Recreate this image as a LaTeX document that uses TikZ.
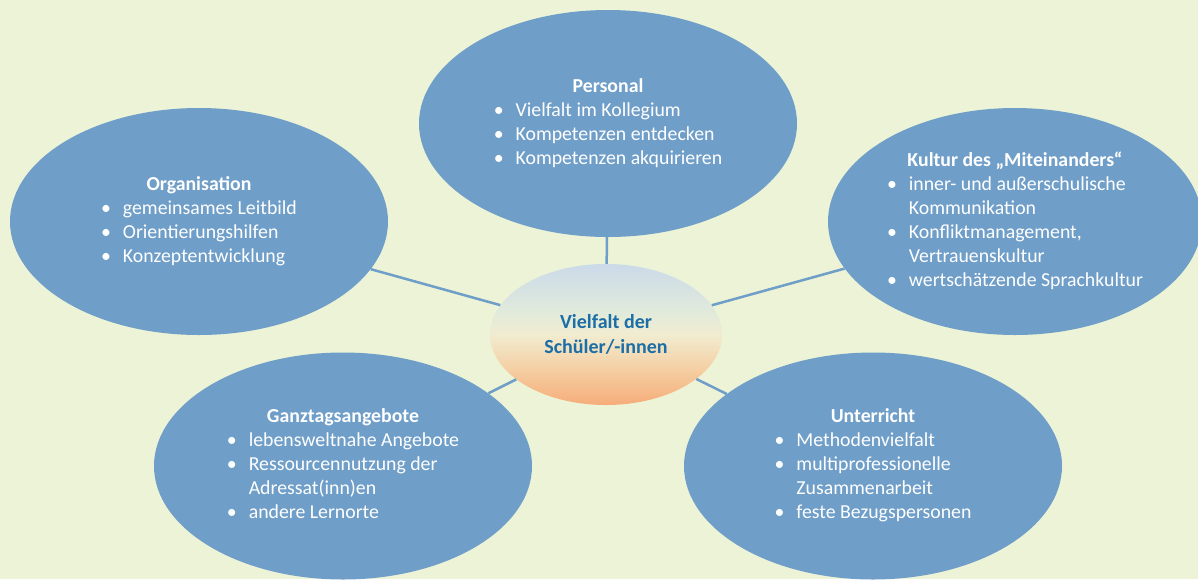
\documentclass[tikz,border=0pt]{standalone}
\usepackage{fontspec}
\setmainfont{Carlito}
\usetikzlibrary{shapes.geometric}
\definecolor{bggreen}{RGB}{236,243,214}
\definecolor{ovalblue}{RGB}{111,158,200}
\definecolor{coretext}{RGB}{28,110,166}
\definecolor{coretop}{RGB}{203,218,233}
\definecolor{coremid}{RGB}{226,235,218}
\definecolor{corecream}{RGB}{241,236,208}
\definecolor{corepeach}{RGB}{245,205,160}
\definecolor{corebot}{RGB}{246,172,122}
\pgfdeclareverticalshading{coreshade}{100bp}{color(0bp)=(corebot); color(25bp)=(corebot);
	color(37bp)=(corepeach); color(50bp)=(corecream); color(57bp)=(coremid);
	color(75bp)=(coretop); color(100bp)=(coretop)}
\tikzset{
	topic/.style={ellipse, fill=ovalblue, text=white, minimum width=378pt, minimum height=227pt,
		inner sep=0pt, font=\fontsize{19.8}{24}\selectfont},
	core/.style={ellipse, shading=coreshade, minimum width=232pt, minimum height=141pt,
		inner sep=0pt, align=center, text=coretext, font=\fontsize{20}{25}\selectfont\bfseries},
	link/.style={draw=ovalblue, line width=2.5pt}
}
\newcommand{\pt}{\textbullet}
\begin{document}
\begin{tikzpicture}[x=1pt,y=-1pt]
	\fill[bggreen] (0,0) rectangle (1198,579);
	\useasboundingbox (0,0) rectangle (1198,579);
	% centre and the five fields
	\node[core] (core) at (606,334.5) {Vielfalt der\\Schüler/-innen};
	\node[topic] (pers) at (608,123.5) {\begin{tabular}{@{}l@{\hspace{12pt}}l@{}}
		\multicolumn{2}{c}{\textbf{Personal}}\\
		\pt & Vielfalt im Kollegium\\
		\pt & Kompetenzen entdecken\\
		\pt & Kompetenzen akquirieren
	\end{tabular}};
	\node[topic] (orga) at (199,221.5) {\begin{tabular}{@{}l@{\hspace{12pt}}l@{}}
		\multicolumn{2}{c}{\textbf{Organisation}}\\
		\pt & gemeinsames Leitbild\\
		\pt & Orientierungshilfen\\
		\pt & Konzeptentwicklung
	\end{tabular}};
	\node[topic, minimum width=374pt] (kult) at (1015,221.5) {\begin{tabular}{@{}l@{\hspace{12pt}}l@{}}
		\multicolumn{2}{c}{\textbf{Kultur des „Miteinanders“}}\\
		\pt & inner- und außerschulische\\
		    & Kommunikation\\
		\pt & Konfliktmanagement,\\
		    & Vertrauenskultur\\
		\pt & wertschätzende Sprachkultur
	\end{tabular}};
	\node[topic] (ganz) at (343,466) {\begin{tabular}{@{}l@{\hspace{12pt}}l@{}}
		\multicolumn{2}{c}{\textbf{Ganztagsangebote}}\\
		\pt & lebensweltnahe Angebote\\
		\pt & Ressourcennutzung der\\
		    & Adressat(inn)en\\
		\pt & andere Lernorte
	\end{tabular}};
	\node[topic] (unter) at (873,466) {\begin{tabular}{@{}l@{\hspace{12pt}}l@{}}
		\multicolumn{2}{c}{\textbf{Unterricht}}\\
		\pt & Methodenvielfalt\\
		\pt & multiprofessionelle\\
		    & Zusammenarbeit\\
		\pt & feste Bezugspersonen
	\end{tabular}};
	% connectors
	\draw[link] (pers) -- (core);
	\draw[link] (orga) -- (core);
	\draw[link] (kult) -- (core);
	\draw[link] (ganz) -- (core);
	\draw[link] (unter) -- (core);
\end{tikzpicture}
\end{document}
